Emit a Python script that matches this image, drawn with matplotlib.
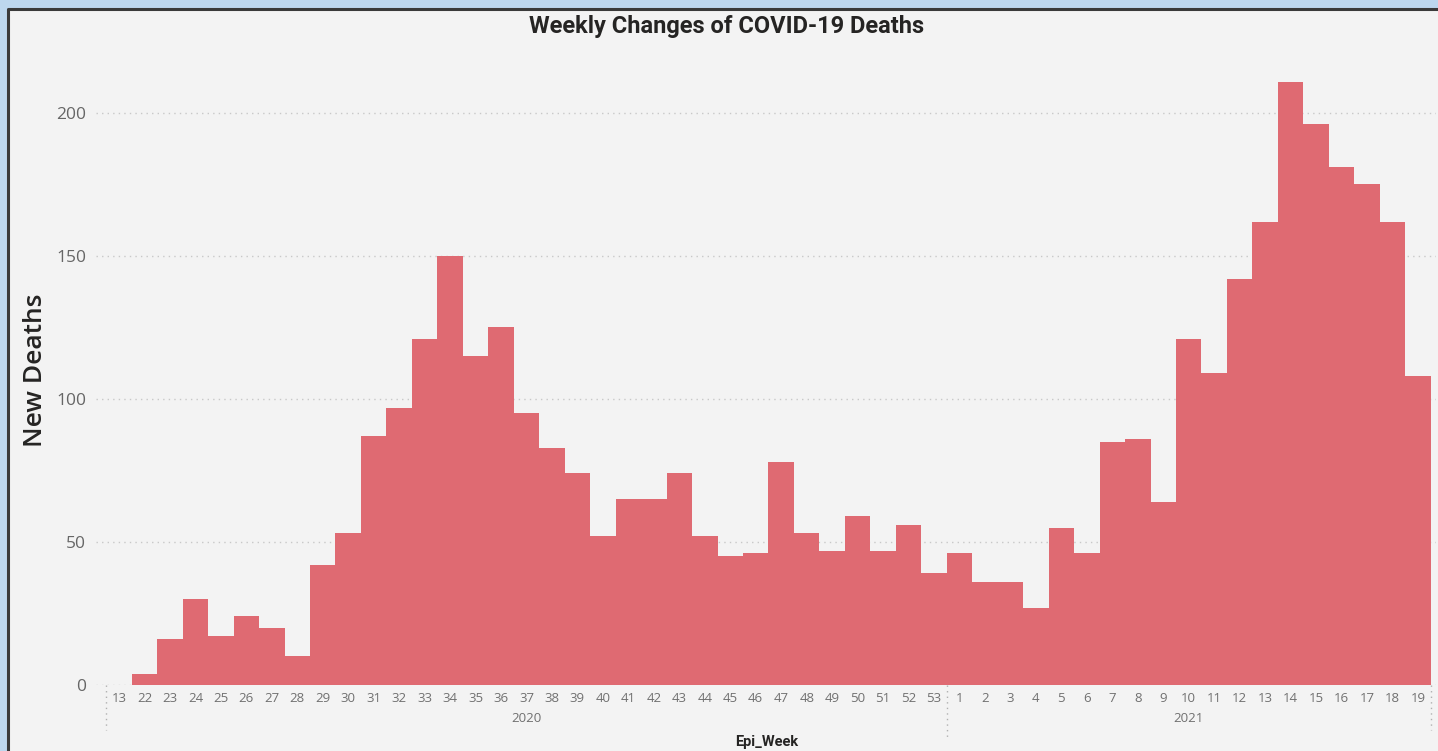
import numpy as np
import matplotlib.pyplot as plt
from matplotlib.patches import Rectangle
from matplotlib.lines import Line2D

###############################################################################
'''DATA'''

weeks_2020 = ['13', '22', '23', '24', '25', '26', '27', '28', '29', '30', '31',
              '32', '33', '34', '35', '36', '37', '38', '39', '40', '41', '42',
              '43', '44', '45', '46', '47', '48', '49', '50', '51', '52', '53']
deaths_2020 = [0, 4, 16, 30, 17, 24, 20, 10, 42, 53, 87,
               97, 121, 150, 115, 125, 95, 83, 74, 52, 65, 65,
               74, 52, 45, 46, 78, 53, 47, 59, 47, 56, 39]

weeks_2021 = ['1', '2', '3', '4', '5', '6', '7', '8', '9', '10',
              '11', '12', '13', '14', '15', '16', '17', '18', '19']
deaths_2021 = [46, 36, 36, 27, 55, 46, 85, 86, 64, 121,
               109, 142, 162, 211, 196, 181, 175, 162, 108]

years = ['2020', '2021']
y_ticks = [0, 50, 100, 150, 200]

week_labels = weeks_2020 + weeks_2021
deaths = deaths_2020 + deaths_2021
x = np.arange(len(week_labels))

###############################################################################
'''PLOTTING'''

W, H = 1438, 751
fig = plt.figure(figsize=(W / 100, H / 100), dpi=100)
fig.patch.set_facecolor('#bdd7ee')

# power bi style panel: grey fill, dark border only on top and left (rest runs off the image)
px, py = 8 / W, 1 - 9 / H
fig.patches.append(Rectangle((px, 0), 1 - px, py, transform=fig.transFigure,
                             facecolor='#f3f3f3', edgecolor='none', zorder=-5))
fig.lines.append(Line2D([px, px, 1], [0, py, py], transform=fig.transFigure,
                        color='#3a3a3a', linewidth=2.2, solid_joinstyle='round', zorder=-4))

ax = fig.add_axes([96 / W, (H - 685) / H, (1436 - 96) / W, 635 / H])
ax.set_facecolor('none')

step = 25.47  # pixels per week
ax.bar(x, deaths, width=1.0, color='#df6a72', linewidth=0, zorder=2)
ax.set_xlim((96 - 119) / step, (1436 - 119) / step)
ax.set_ylim(0, 635 / 2.86)

# dotted gridlines
ax.set_yticks(y_ticks)
ax.yaxis.grid(True, linestyle=(0, (1, 3)), color='#c8c8c8', linewidth=1, zorder=0)
ax.set_axisbelow(True)
for s in ax.spines.values():
    s.set_visible(False)
ax.tick_params(axis='both', length=0)
ax.tick_params(axis='y', labelsize=12.5, labelcolor='#666666', pad=7)
ax.set_xticks(x)
ax.set_xticklabels(week_labels, fontsize=9.5, color='#707070')
ax.tick_params(axis='x', pad=5)
for lab in ax.get_yticklabels() + ax.get_xticklabels():
    lab.set_family('Open Sans')

# year labels and dotted separators below the axis
n20 = len(weeks_2020)
n21 = len(weeks_2021)
centers = [(n20 - 1) / 2, n20 + (n21 - 1) / 2]
for yr, c in zip(years, centers):
    ax.text(c, -33 / 635, yr, transform=ax.get_xaxis_transform(), ha='center', va='center',
            fontsize=9.5, color='#707070', family='Open Sans')
for sep, bottom in [(-0.5, -45), (n20 - 0.5, -55), (len(x) - 0.5, -45)]:
    ax.plot([sep, sep], [0, bottom / 635], transform=ax.get_xaxis_transform(),
            linestyle=(0, (1, 3)), color='#b0b0b0', linewidth=1, clip_on=False)

fig.text(767 / W, 1 - 742 / H, 'Epi_Week', ha='center', va='center',
         fontsize=10.5, fontweight='bold', color='#252423', family='Roboto')
fig.text(36 / W, 1 - 370 / H, 'New Deaths', ha='center', va='center', rotation=90,
         fontsize=19, fontweight='semibold', color='#252423', family='Open Sans')
fig.text(727 / W, 1 - 27 / H, 'Weekly Changes of COVID-19 Deaths', ha='center', va='center',
         fontsize=17, fontweight='bold', color='#252423', family='Roboto')

plt.savefig('out.png', dpi=100, facecolor=fig.get_facecolor())
